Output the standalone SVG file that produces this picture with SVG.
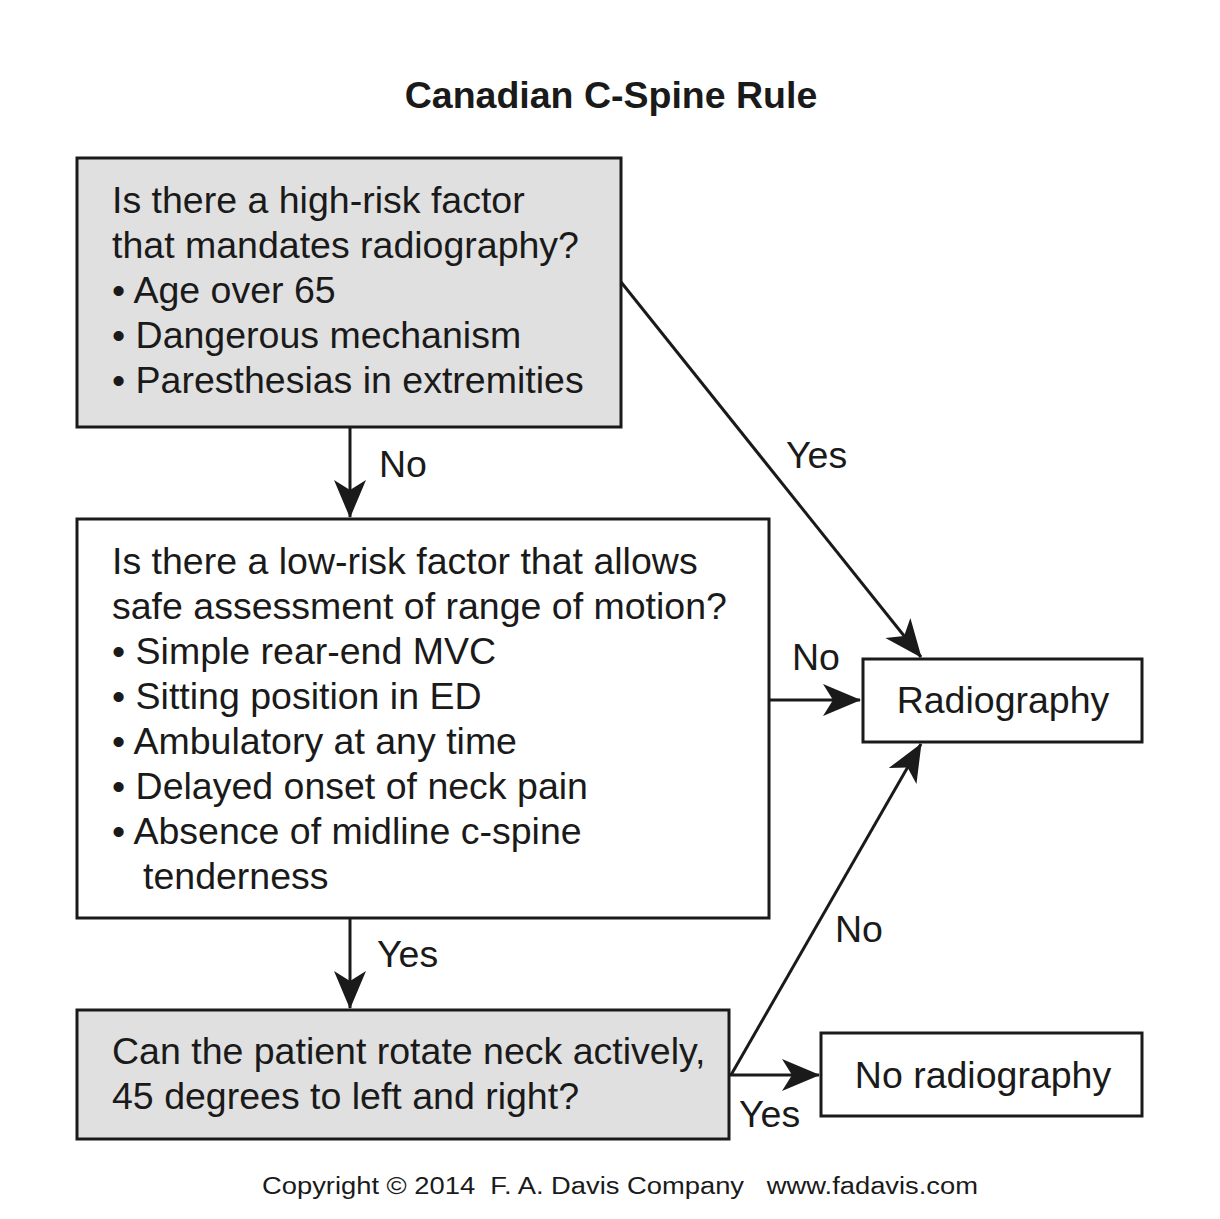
<svg xmlns="http://www.w3.org/2000/svg" width="1220" height="1219" viewBox="0 0 1220 1219">
<style>
text{font-family:"Liberation Sans",Arial,sans-serif;fill:#1a1a1a}
.t{font-size:37.5px}
.lbl{font-size:37.5px}
.box{stroke:#1a1a1a;stroke-width:3}
.g{fill:#e0e0e0}
.w{fill:#fff}
.c{stroke:#1a1a1a;stroke-width:3;fill:none}
</style>
<defs>
<marker id="ah" markerUnits="userSpaceOnUse" viewBox="-40 -18 42 36" refX="0" refY="0" markerWidth="42" markerHeight="36" orient="auto">
<path d="M1,0 L-37,-16 L-27,0 L-37,16 Z" fill="#1a1a1a"/>
</marker>
</defs>
<rect width="1220" height="1219" fill="#fff"/>
<text x="611" y="108" text-anchor="middle" font-size="37.5" font-weight="bold">Canadian C-Spine Rule</text>

<g id="n1">
<rect class="box g" x="77" y="158" width="544" height="269"/>
<text class="t" x="112" y="213">Is there a high-risk factor</text>
<text class="t" x="112" y="258">that mandates radiography?</text>
<text class="t" x="112" y="303">• Age over 65</text>
<text class="t" x="112" y="348">• Dangerous mechanism</text>
<text class="t" x="112" y="393">• Paresthesias in extremities</text>
</g>

<g id="n2">
<rect class="box w" x="77" y="519" width="692" height="399"/>
<text class="t" x="112" y="574">Is there a low-risk factor that allows</text>
<text class="t" x="112" y="619">safe assessment of range of motion?</text>
<text class="t" x="112" y="664">• Simple rear-end MVC</text>
<text class="t" x="112" y="709">• Sitting position in ED</text>
<text class="t" x="112" y="754">• Ambulatory at any time</text>
<text class="t" x="112" y="799">• Delayed onset of neck pain</text>
<text class="t" x="112" y="844">• Absence of midline c-spine</text>
<text class="t" x="143" y="889">tenderness</text>
</g>

<g id="n3">
<rect class="box g" x="77" y="1010" width="652" height="129"/>
<text class="t" x="112" y="1064">Can the patient rotate neck actively,</text>
<text class="t" x="112" y="1109">45 degrees to left and right?</text>
</g>

<g id="n4">
<rect class="box w" x="863" y="659" width="279" height="83"/>
<text class="t" x="1003" y="713" text-anchor="middle">Radiography</text>
</g>

<g id="n5">
<rect class="box w" x="821" y="1033" width="321" height="83"/>
<text class="t" x="983" y="1088" text-anchor="middle">No radiography</text>
</g>

<g id="connectors">
<line class="c" x1="350" y1="427" x2="350" y2="517" marker-end="url(#ah)"/>
<line class="c" x1="621" y1="282" x2="921" y2="657" marker-end="url(#ah)"/>
<line class="c" x1="769" y1="700" x2="860" y2="700" marker-end="url(#ah)"/>
<line class="c" x1="350" y1="918" x2="350" y2="1008" marker-end="url(#ah)"/>
<line class="c" x1="731" y1="1075" x2="921" y2="744" marker-end="url(#ah)"/>
<line class="c" x1="729" y1="1075" x2="819" y2="1075" marker-end="url(#ah)"/>
<text class="lbl" x="379" y="477">No</text>
<text class="lbl" x="786" y="468">Yes</text>
<text class="lbl" x="792" y="670">No</text>
<text class="lbl" x="377" y="967">Yes</text>
<text class="lbl" x="835" y="942">No</text>
<text class="lbl" x="739" y="1127">Yes</text>
</g>

<text x="262" y="1194" font-size="23" xml:space="preserve" textLength="716" lengthAdjust="spacingAndGlyphs">Copyright © 2014  F. A. Davis Company   www.fadavis.com</text>
</svg>
